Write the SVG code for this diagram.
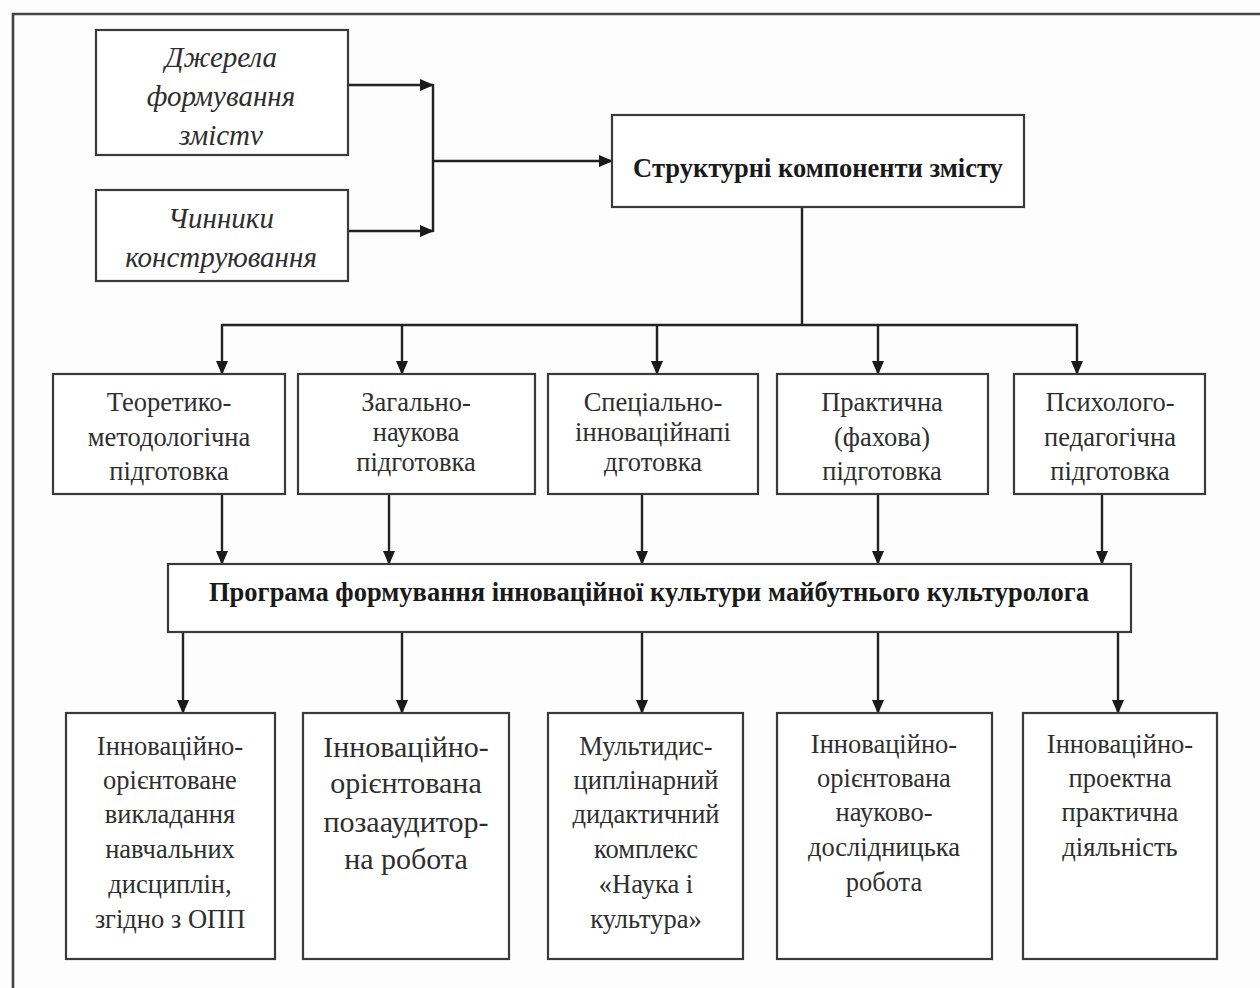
<svg xmlns="http://www.w3.org/2000/svg" width="1260" height="988" viewBox="0 0 1260 988">
<defs>
<style>
.box{fill:#fff;stroke:#3a3a3a;stroke-width:2.2}
.ln{fill:none;stroke:#222;stroke-width:2.4}
.t{font-family:"Liberation Serif","Times New Roman",serif;font-size:26.5px;fill:#2e2e2e;text-anchor:middle}
.tl{font-size:30px}
.b{font-weight:bold;fill:#1a1a1a;font-size:26.5px}
.i{font-style:italic;font-size:29px}
</style>
<marker id="ah" markerWidth="14" markerHeight="14" viewBox="0 0 14 14" refX="13" refY="7" orient="auto" markerUnits="userSpaceOnUse">
<path d="M0,1 L14,7 L0,13 Z" fill="#1a1a1a"/>
</marker>
</defs>
<rect width="1260" height="988" fill="#fdfdfd"/>
<path d="M13,988 V14 H1260" fill="none" stroke="#444" stroke-width="2.6"/>

<g id="connectors">
<line class="ln" x1="348" y1="85" x2="433" y2="85" marker-end="url(#ah)"/>
<line class="ln" x1="348" y1="231" x2="433" y2="231" marker-end="url(#ah)"/>
<line class="ln" x1="433" y1="84" x2="433" y2="232"/>
<line class="ln" x1="433" y1="161" x2="612" y2="161" marker-end="url(#ah)"/>
<line class="ln" x1="802" y1="207" x2="802" y2="325"/>
<line class="ln" x1="222" y1="325" x2="1077" y2="325"/>
<line class="ln" x1="222" y1="324" x2="222" y2="374" marker-end="url(#ah)"/>
<line class="ln" x1="402" y1="325" x2="402" y2="374" marker-end="url(#ah)"/>
<line class="ln" x1="657" y1="325" x2="657" y2="374" marker-end="url(#ah)"/>
<line class="ln" x1="878" y1="325" x2="878" y2="374" marker-end="url(#ah)"/>
<line class="ln" x1="1077" y1="324" x2="1077" y2="374" marker-end="url(#ah)"/>
<line class="ln" x1="222" y1="494" x2="222" y2="564" marker-end="url(#ah)"/>
<line class="ln" x1="389" y1="494" x2="389" y2="564" marker-end="url(#ah)"/>
<line class="ln" x1="642" y1="494" x2="642" y2="564" marker-end="url(#ah)"/>
<line class="ln" x1="878" y1="494" x2="878" y2="564" marker-end="url(#ah)"/>
<line class="ln" x1="1102" y1="494" x2="1102" y2="564" marker-end="url(#ah)"/>
<line class="ln" x1="183" y1="632" x2="183" y2="713" marker-end="url(#ah)"/>
<line class="ln" x1="402" y1="632" x2="402" y2="713" marker-end="url(#ah)"/>
<line class="ln" x1="642" y1="632" x2="642" y2="713" marker-end="url(#ah)"/>
<line class="ln" x1="878" y1="632" x2="878" y2="713" marker-end="url(#ah)"/>
<line class="ln" x1="1118" y1="632" x2="1118" y2="713" marker-end="url(#ah)"/>
</g>

<g id="n-dzherela">
<rect class="box" x="96" y="30" width="252" height="125"/>
<text class="t i" x="221" y="67">Джерела</text>
<text class="t i" x="221" y="106">формування</text>
<text class="t i" x="221" y="145">змістv</text>
</g>
<g id="n-chynnyky">
<rect class="box" x="96" y="190" width="252" height="91"/>
<text class="t i" x="221" y="228">Чинники</text>
<text class="t i" x="221" y="267">конструювання</text>
</g>
<g id="n-struktura">
<rect class="box" x="612" y="115" width="412" height="92"/>
<text class="t b" x="818" y="177">Структурні компоненти змісту</text>
</g>

<g id="n-teor">
<rect class="box" x="53" y="374" width="232" height="120"/>
<text class="t" x="169" y="411">Теоретико-</text>
<text class="t" x="169" y="446">методологічна</text>
<text class="t" x="169" y="480">підготовка</text>
</g>
<g id="n-zag">
<rect class="box" x="298" y="374" width="237" height="120"/>
<text class="t" x="416" y="411">Загально-</text>
<text class="t" x="416" y="441">наукова</text>
<text class="t" x="416" y="471">підготовка</text>
</g>
<g id="n-spec">
<rect class="box" x="548" y="374" width="210" height="120"/>
<text class="t" x="653" y="411">Спеціально-</text>
<text class="t" x="653" y="441">інноваційнапі</text>
<text class="t" x="653" y="471">дготовка</text>
</g>
<g id="n-prakt">
<rect class="box" x="777" y="374" width="211" height="120"/>
<text class="t" x="882" y="411">Практична</text>
<text class="t" x="882" y="446">(фахова)</text>
<text class="t" x="882" y="480">підготовка</text>
</g>
<g id="n-psych">
<rect class="box" x="1014" y="374" width="191" height="120"/>
<text class="t" x="1110" y="411">Психолого-</text>
<text class="t" x="1110" y="446">педагогічна</text>
<text class="t" x="1110" y="480">підготовка</text>
</g>

<g id="n-programa">
<rect class="box" x="168" y="564" width="963" height="68"/>
<text class="t b" x="649" y="601">Програма формування інноваційної культури майбутнього культуролога</text>
</g>

<g id="n-vykl">
<rect class="box" x="66" y="713" width="209" height="246"/>
<text class="t" x="170" y="755">Інноваційно-</text>
<text class="t" x="170" y="789">орієнтоване</text>
<text class="t" x="170" y="823">викладання</text>
<text class="t" x="170" y="858">навчальних</text>
<text class="t" x="170" y="893">дисциплін,</text>
<text class="t" x="170" y="928">згідно з ОПП</text>
</g>
<g id="n-poza">
<rect class="box" x="303" y="713" width="206" height="246"/>
<text class="t tl" x="406" y="757">Інноваційно-</text>
<text class="t tl" x="406" y="793">орієнтована</text>
<text class="t tl" x="406" y="832">позааудитор-</text>
<text class="t tl" x="406" y="869">на робота</text>
</g>
<g id="n-multy">
<rect class="box" x="548" y="713" width="195" height="246"/>
<text class="t" x="646" y="755">Мультидис-</text>
<text class="t" x="646" y="789">циплінарний</text>
<text class="t" x="646" y="823">дидактичний</text>
<text class="t" x="646" y="858">комплекс</text>
<text class="t" x="646" y="893">«Наука і</text>
<text class="t" x="646" y="928">культура»</text>
</g>
<g id="n-nauk">
<rect class="box" x="777" y="713" width="215" height="246"/>
<text class="t" x="884" y="753">Інноваційно-</text>
<text class="t" x="884" y="787">орієнтована</text>
<text class="t" x="884" y="821">науково-</text>
<text class="t" x="884" y="856">дослідницька</text>
<text class="t" x="884" y="891">робота</text>
</g>
<g id="n-proekt">
<rect class="box" x="1023" y="713" width="194" height="246"/>
<text class="t" x="1120" y="753">Інноваційно-</text>
<text class="t" x="1120" y="787">проектна</text>
<text class="t" x="1120" y="821">практична</text>
<text class="t" x="1120" y="856">діяльність</text>
</g>
</svg>
